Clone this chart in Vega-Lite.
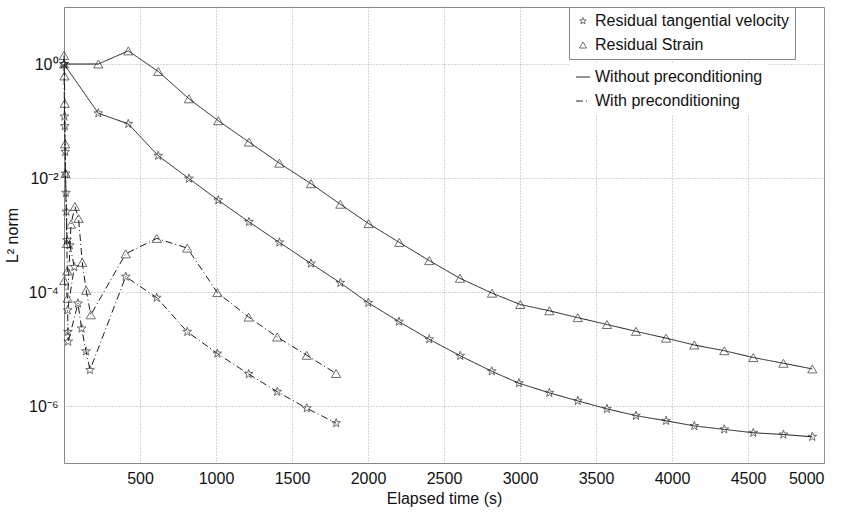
{
  "$schema": "https://vega.github.io/schema/vega-lite/v6.json",
  "width": 760,
  "height": 456,
  "autosize": {"type": "none"},
  "padding": {"left": 64, "top": 7, "right": 19, "bottom": 52},
  "background": "white",
  "config": {
    "font": "Liberation Sans",
    "view": {"stroke": "#888", "strokeWidth": 1},
    "axis": {
      "labelFont": "Liberation Sans", "titleFont": "Liberation Sans",
      "labelFontSize": 16, "titleFontSize": 16, "labelColor": "#111", "titleColor": "#111",
      "titleFontWeight": "normal", "domain": false, "ticks": false,
      "grid": true, "gridColor": "#aaa", "gridDash": [1, 2], "gridWidth": 1
    },
    "legend": {
      "labelFont": "Liberation Sans", "labelFontSize": 16, "labelColor": "#111", "labelLimit": 400,
      "fillColor": "white", "strokeColor": "#888", "padding": 6, "rowPadding": 8,
      "symbolStrokeColor": "#222"
    }
  },
  "data": {"values": [
    {"t": 0, "v": 1, "q": "Residual Strain", "p": "Without preconditioning", "i": 0},
    {"t": 226, "v": 1, "q": "Residual Strain", "p": "Without preconditioning", "i": 1},
    {"t": 423, "v": 1.698, "q": "Residual Strain", "p": "Without preconditioning", "i": 2},
    {"t": 620, "v": 0.741, "q": "Residual Strain", "p": "Without preconditioning", "i": 3},
    {"t": 822, "v": 0.2455, "q": "Residual Strain", "p": "Without preconditioning", "i": 4},
    {"t": 1015, "v": 0.1012, "q": "Residual Strain", "p": "Without preconditioning", "i": 5},
    {"t": 1217, "v": 0.04266, "q": "Residual Strain", "p": "Without preconditioning", "i": 6},
    {"t": 1417, "v": 0.0182, "q": "Residual Strain", "p": "Without preconditioning", "i": 7},
    {"t": 1625, "v": 0.007943, "q": "Residual Strain", "p": "Without preconditioning", "i": 8},
    {"t": 1818, "v": 0.003467, "q": "Residual Strain", "p": "Without preconditioning", "i": 9},
    {"t": 2004, "v": 0.001585, "q": "Residual Strain", "p": "Without preconditioning", "i": 10},
    {"t": 2206, "v": 0.000741, "q": "Residual Strain", "p": "Without preconditioning", "i": 11},
    {"t": 2403, "v": 0.000355, "q": "Residual Strain", "p": "Without preconditioning", "i": 12},
    {"t": 2605, "v": 0.000174, "q": "Residual Strain", "p": "Without preconditioning", "i": 13},
    {"t": 2816, "v": 0.0000955, "q": "Residual Strain", "p": "Without preconditioning", "i": 14},
    {"t": 3002, "v": 0.0000603, "q": "Residual Strain", "p": "Without preconditioning", "i": 15},
    {"t": 3193, "v": 0.0000468, "q": "Residual Strain", "p": "Without preconditioning", "i": 16},
    {"t": 3380, "v": 0.0000355, "q": "Residual Strain", "p": "Without preconditioning", "i": 17},
    {"t": 3572, "v": 0.0000269, "q": "Residual Strain", "p": "Without preconditioning", "i": 18},
    {"t": 3763, "v": 0.0000204, "q": "Residual Strain", "p": "Without preconditioning", "i": 19},
    {"t": 3961, "v": 0.0000155, "q": "Residual Strain", "p": "Without preconditioning", "i": 20},
    {"t": 4147, "v": 0.00001175, "q": "Residual Strain", "p": "Without preconditioning", "i": 21},
    {"t": 4344, "v": 0.00000933, "q": "Residual Strain", "p": "Without preconditioning", "i": 22},
    {"t": 4535, "v": 0.00000708, "q": "Residual Strain", "p": "Without preconditioning", "i": 23},
    {"t": 4733, "v": 0.00000562, "q": "Residual Strain", "p": "Without preconditioning", "i": 24},
    {"t": 4923, "v": 0.00000447, "q": "Residual Strain", "p": "Without preconditioning", "i": 25},

    {"t": 0, "v": 1, "q": "Residual tangential velocity", "p": "Without preconditioning", "i": 0},
    {"t": 226, "v": 0.1365, "q": "Residual tangential velocity", "p": "Without preconditioning", "i": 1},
    {"t": 423, "v": 0.0891, "q": "Residual tangential velocity", "p": "Without preconditioning", "i": 2},
    {"t": 620, "v": 0.02455, "q": "Residual tangential velocity", "p": "Without preconditioning", "i": 3},
    {"t": 822, "v": 0.00977, "q": "Residual tangential velocity", "p": "Without preconditioning", "i": 4},
    {"t": 1015, "v": 0.004074, "q": "Residual tangential velocity", "p": "Without preconditioning", "i": 5},
    {"t": 1217, "v": 0.001698, "q": "Residual tangential velocity", "p": "Without preconditioning", "i": 6},
    {"t": 1417, "v": 0.000741, "q": "Residual tangential velocity", "p": "Without preconditioning", "i": 7},
    {"t": 1625, "v": 0.000316, "q": "Residual tangential velocity", "p": "Without preconditioning", "i": 8},
    {"t": 1818, "v": 0.0001445, "q": "Residual tangential velocity", "p": "Without preconditioning", "i": 9},
    {"t": 2002, "v": 0.0000646, "q": "Residual tangential velocity", "p": "Without preconditioning", "i": 10},
    {"t": 2204, "v": 0.0000302, "q": "Residual tangential velocity", "p": "Without preconditioning", "i": 11},
    {"t": 2403, "v": 0.00001479, "q": "Residual tangential velocity", "p": "Without preconditioning", "i": 12},
    {"t": 2607, "v": 0.00000759, "q": "Residual tangential velocity", "p": "Without preconditioning", "i": 13},
    {"t": 2814, "v": 0.00000407, "q": "Residual tangential velocity", "p": "Without preconditioning", "i": 14},
    {"t": 2993, "v": 0.00000251, "q": "Residual tangential velocity", "p": "Without preconditioning", "i": 15},
    {"t": 3193, "v": 0.0000017, "q": "Residual tangential velocity", "p": "Without preconditioning", "i": 16},
    {"t": 3380, "v": 0.00000123, "q": "Residual tangential velocity", "p": "Without preconditioning", "i": 17},
    {"t": 3572, "v": 0.000000891, "q": "Residual tangential velocity", "p": "Without preconditioning", "i": 18},
    {"t": 3763, "v": 0.000000676, "q": "Residual tangential velocity", "p": "Without preconditioning", "i": 19},
    {"t": 3961, "v": 0.00000055, "q": "Residual tangential velocity", "p": "Without preconditioning", "i": 20},
    {"t": 4147, "v": 0.000000447, "q": "Residual tangential velocity", "p": "Without preconditioning", "i": 21},
    {"t": 4344, "v": 0.000000389, "q": "Residual tangential velocity", "p": "Without preconditioning", "i": 22},
    {"t": 4535, "v": 0.000000339, "q": "Residual tangential velocity", "p": "Without preconditioning", "i": 23},
    {"t": 4733, "v": 0.000000316, "q": "Residual tangential velocity", "p": "Without preconditioning", "i": 24},
    {"t": 4923, "v": 0.000000288, "q": "Residual tangential velocity", "p": "Without preconditioning", "i": 25},

    {"t": 0, "v": 1.413, "q": "Residual Strain", "p": "With preconditioning", "i": 0},
    {"t": 3, "v": 0.617, "q": "Residual Strain", "p": "With preconditioning", "i": 1},
    {"t": 5, "v": 0.204, "q": "Residual Strain", "p": "With preconditioning", "i": 2},
    {"t": 8, "v": 0.0398, "q": "Residual Strain", "p": "With preconditioning", "i": 3},
    {"t": 10, "v": 0.012, "q": "Residual Strain", "p": "With preconditioning", "i": 4},
    {"t": 18, "v": 0.000708, "q": "Residual Strain", "p": "With preconditioning", "i": 5},
    {"t": 22, "v": 0.000234, "q": "Residual Strain", "p": "With preconditioning", "i": 6},
    {"t": 2, "v": 0.0001585, "q": "Residual Strain", "p": "With preconditioning", "i": 7},
    {"t": 24, "v": 0.0000776, "q": "Residual Strain", "p": "With preconditioning", "i": 8},
    {"t": 46, "v": 0.001549, "q": "Residual Strain", "p": "With preconditioning", "i": 9},
    {"t": 72, "v": 0.00316, "q": "Residual Strain", "p": "With preconditioning", "i": 10},
    {"t": 96, "v": 0.00195, "q": "Residual Strain", "p": "With preconditioning", "i": 11},
    {"t": 120, "v": 0.000331, "q": "Residual Strain", "p": "With preconditioning", "i": 12},
    {"t": 146, "v": 0.000107, "q": "Residual Strain", "p": "With preconditioning", "i": 13},
    {"t": 176, "v": 0.0000398, "q": "Residual Strain", "p": "With preconditioning", "i": 14},
    {"t": 406, "v": 0.000468, "q": "Residual Strain", "p": "With preconditioning", "i": 15},
    {"t": 610, "v": 0.000871, "q": "Residual Strain", "p": "With preconditioning", "i": 16},
    {"t": 811, "v": 0.000589, "q": "Residual Strain", "p": "With preconditioning", "i": 17},
    {"t": 1009, "v": 0.0000977, "q": "Residual Strain", "p": "With preconditioning", "i": 18},
    {"t": 1215, "v": 0.0000363, "q": "Residual Strain", "p": "With preconditioning", "i": 19},
    {"t": 1403, "v": 0.0000162, "q": "Residual Strain", "p": "With preconditioning", "i": 20},
    {"t": 1597, "v": 0.00000776, "q": "Residual Strain", "p": "With preconditioning", "i": 21},
    {"t": 1790, "v": 0.00000372, "q": "Residual Strain", "p": "With preconditioning", "i": 22},

    {"t": 0, "v": 1, "q": "Residual tangential velocity", "p": "With preconditioning", "i": 0},
    {"t": 3, "v": 0.12, "q": "Residual tangential velocity", "p": "With preconditioning", "i": 1},
    {"t": 5, "v": 0.0813, "q": "Residual tangential velocity", "p": "With preconditioning", "i": 2},
    {"t": 8, "v": 0.0288, "q": "Residual tangential velocity", "p": "With preconditioning", "i": 3},
    {"t": 10, "v": 0.012, "q": "Residual tangential velocity", "p": "With preconditioning", "i": 4},
    {"t": 13, "v": 0.0055, "q": "Residual tangential velocity", "p": "With preconditioning", "i": 5},
    {"t": 16, "v": 0.00257, "q": "Residual tangential velocity", "p": "With preconditioning", "i": 6},
    {"t": 20, "v": 0.000813, "q": "Residual tangential velocity", "p": "With preconditioning", "i": 7},
    {"t": 38, "v": 0.000661, "q": "Residual tangential velocity", "p": "With preconditioning", "i": 8},
    {"t": 68, "v": 0.000275, "q": "Residual tangential velocity", "p": "With preconditioning", "i": 9},
    {"t": 24, "v": 0.0000479, "q": "Residual tangential velocity", "p": "With preconditioning", "i": 10},
    {"t": 26, "v": 0.00002, "q": "Residual tangential velocity", "p": "With preconditioning", "i": 11},
    {"t": 28, "v": 0.0000135, "q": "Residual tangential velocity", "p": "With preconditioning", "i": 12},
    {"t": 92, "v": 0.0000631, "q": "Residual tangential velocity", "p": "With preconditioning", "i": 13},
    {"t": 116, "v": 0.0000229, "q": "Residual tangential velocity", "p": "With preconditioning", "i": 14},
    {"t": 145, "v": 0.00000912, "q": "Residual tangential velocity", "p": "With preconditioning", "i": 15},
    {"t": 171, "v": 0.00000427, "q": "Residual tangential velocity", "p": "With preconditioning", "i": 16},
    {"t": 406, "v": 0.000186, "q": "Residual tangential velocity", "p": "With preconditioning", "i": 17},
    {"t": 610, "v": 0.0000794, "q": "Residual tangential velocity", "p": "With preconditioning", "i": 18},
    {"t": 811, "v": 0.00002, "q": "Residual tangential velocity", "p": "With preconditioning", "i": 19},
    {"t": 1009, "v": 0.00000832, "q": "Residual tangential velocity", "p": "With preconditioning", "i": 20},
    {"t": 1215, "v": 0.00000363, "q": "Residual tangential velocity", "p": "With preconditioning", "i": 21},
    {"t": 1403, "v": 0.00000178, "q": "Residual tangential velocity", "p": "With preconditioning", "i": 22},
    {"t": 1597, "v": 0.000000912, "q": "Residual tangential velocity", "p": "With preconditioning", "i": 23},
    {"t": 1790, "v": 0.000000501, "q": "Residual tangential velocity", "p": "With preconditioning", "i": 24}
  ]},
  "encoding": {
    "x": {"field": "t", "type": "quantitative",
      "scale": {"domain": [0, 5000], "nice": false, "zero": false},
      "axis": {"title": "Elapsed time (s)", "format": "d", "values": [500, 1000, 1500, 2000, 2500, 3000, 3500, 4000, 4500, 5000], "labelPadding": 7, "titlePadding": 4}},
    "y": {"field": "v", "type": "quantitative",
      "scale": {"type": "log", "domain": [1e-7, 10], "nice": false},
      "axis": {"title": "L² norm", "values": [1e-6, 1e-4, 1e-2, 1], "labelPadding": 6, "titlePadding": 8,
        "labelExpr": "datum.value >= 0.5 ? '10⁰' : datum.value >= 0.005 ? '10⁻²' : datum.value >= 0.00005 ? '10⁻⁴' : '10⁻⁶'"}}
  },
  "layer": [
    {
      "mark": {"type": "line", "strokeWidth": 1, "color": "#1a1a1a"},
      "encoding": {
        "strokeDash": {"field": "p", "type": "nominal",
          "scale": {"domain": ["Without preconditioning", "With preconditioning"], "range": [[1, 0], [7, 3, 1, 3]]},
          "legend": {"title": null, "orient": "none", "legendX": 505, "legendY": 56, "symbolType": "stroke", "symbolSize": 200, "symbolStrokeWidth": 1, "zindex": 2,
            "encode": {"legend": {"update": {"width": {"value": 250}, "strokeWidth": {"value": 0}}}}}},
        "detail": {"field": "q"},
        "order": {"field": "i", "type": "quantitative"}
      }
    },
    {
      "mark": {"type": "point", "filled": false, "strokeWidth": 0.9, "color": "#1a1a1a", "size": 85},
      "encoding": {
        "shape": {"field": "q", "type": "nominal",
          "scale": {"domain": ["Residual tangential velocity", "Residual Strain"],
            "range": ["M0,-1L0.235,-0.324L0.951,-0.309L0.38,0.124L0.588,0.809L0,0.4L-0.588,0.809L-0.38,0.124L-0.951,-0.309L-0.235,-0.324Z", "triangle-up"]},
          "legend": {"title": null, "orient": "none", "legendX": 505, "legendY": 0, "symbolSize": 50, "symbolStrokeWidth": 0.9, "zindex": 2,
            "encode": {"legend": {"update": {"width": {"value": 254}, "height": {"value": 112}}}}}}
      }
    }
  ]
}
